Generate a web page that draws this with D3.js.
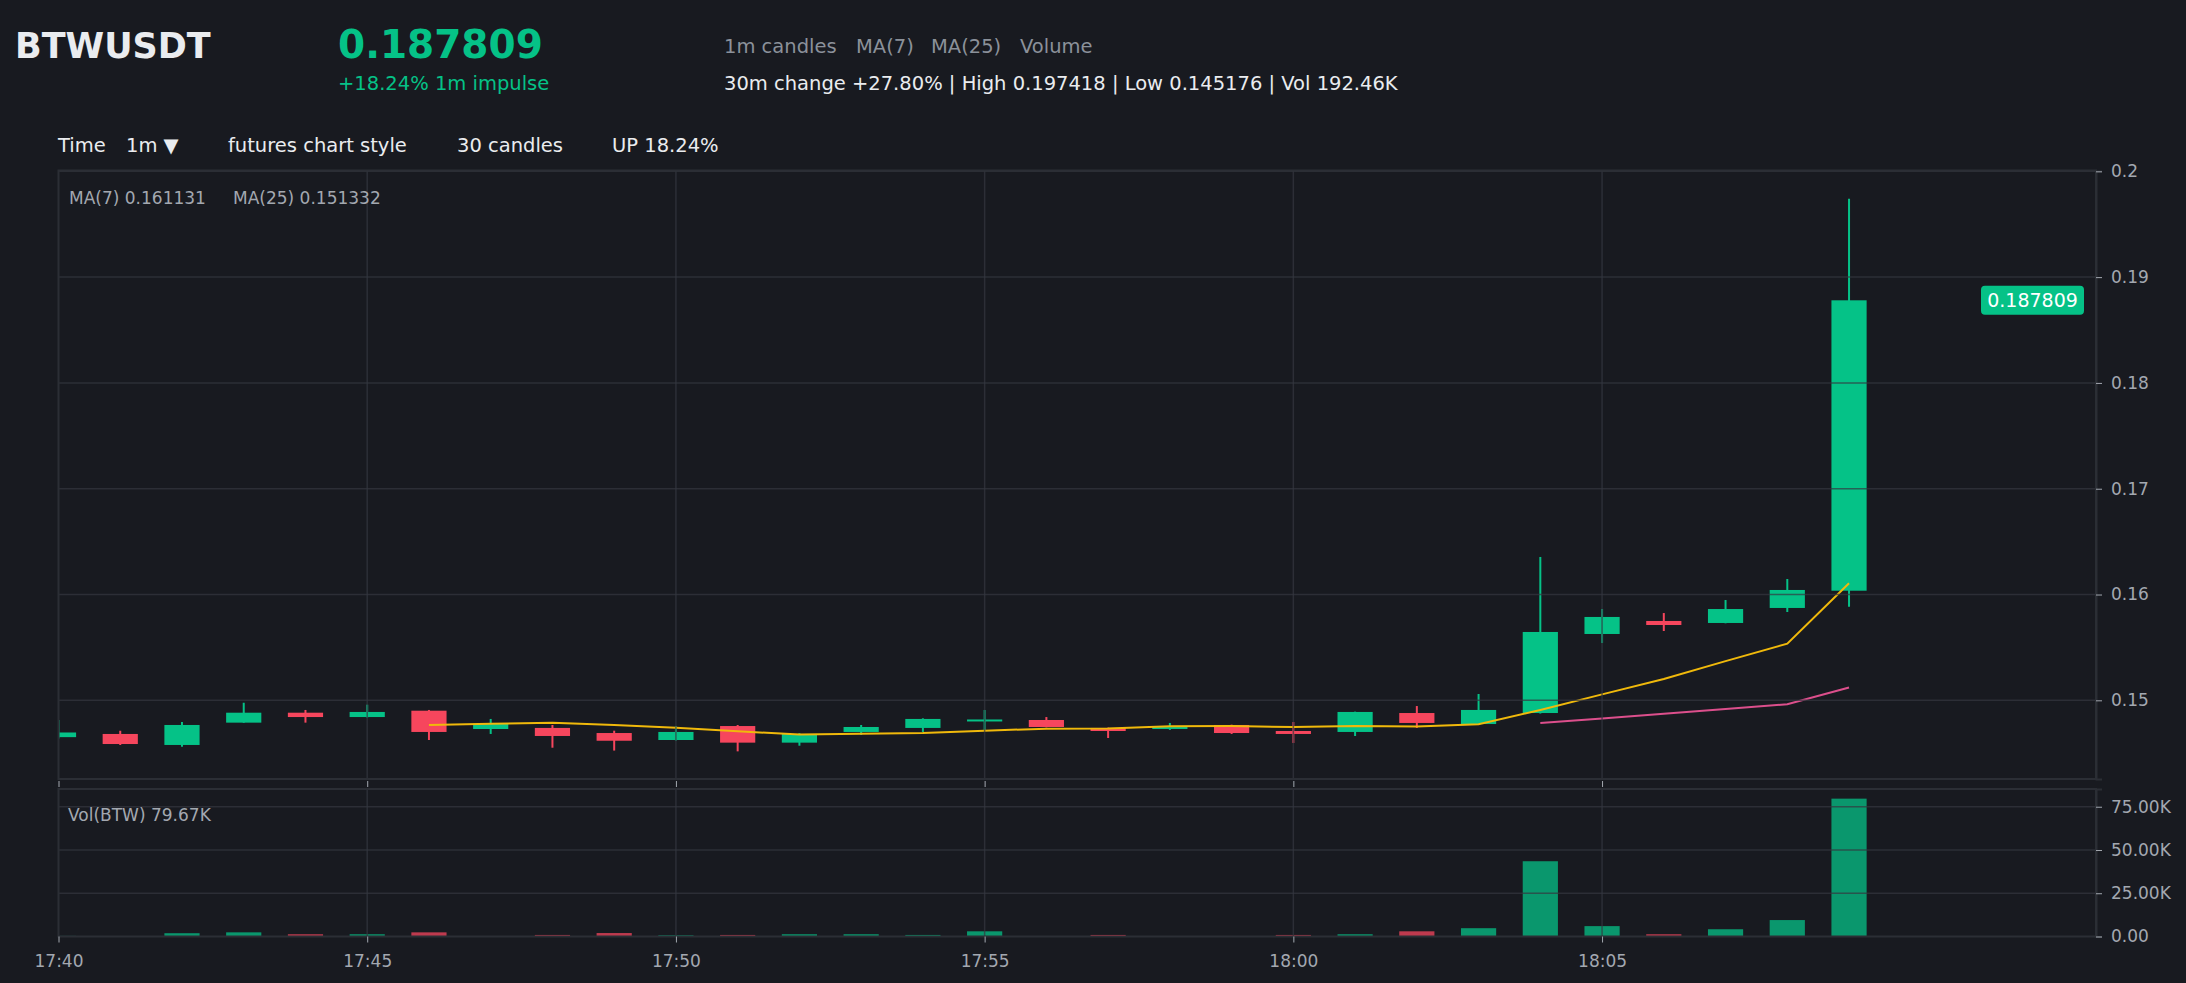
<!DOCTYPE html>
<html>
<head>
<meta charset="utf-8">
<script src="https://cdn.jsdelivr.net/npm/d3@7"></script>
<style>
  html, body { margin: 0; padding: 0; background: #181a20; }
  svg { display: block; font-family: "DejaVu Sans", sans-serif; }
</style>
</head>
<body>
<svg id="chart" width="2186" height="983"></svg>
<script>
// 1m candles, BTWUSDT, 17:40 - 18:09
const times = ["17:40","17:41","17:42","17:43","17:44","17:45","17:46","17:47","17:48","17:49",
  "17:50","17:51","17:52","17:53","17:54","17:55","17:56","17:57","17:58","17:59",
  "18:00","18:01","18:02","18:03","18:04","18:05","18:06","18:07","18:08","18:09"];
const open = [0.14652,0.14682,0.14578,0.14789,0.14883,0.14842,0.14902,0.14729,0.14739,0.14691,
  0.14625,0.14757,0.14600,0.14701,0.14739,0.14805,0.14814,0.14739,0.14729,0.14767,
  0.14710,0.14701,0.14880,0.14776,0.14880,0.15627,0.15750,0.15731,0.15873,0.16036];
const high = [0.14814,0.14713,0.14795,0.14978,0.14909,0.14959,0.14909,0.14824,0.14767,0.14713,
  0.14757,0.14767,0.14690,0.14767,0.14830,0.14909,0.14842,0.14742,0.14786,0.14770,
  0.14795,0.14893,0.14946,0.15060,0.16355,0.15863,0.15825,0.15948,0.16147,0.197418];
const low = [0.14640,0.14578,0.14562,0.14788,0.14789,0.14838,0.14625,0.14682,0.14552,0.14525,
  0.14620,0.145176,0.14571,0.14672,0.14701,0.14720,0.14745,0.14644,0.14720,0.14682,
  0.14597,0.14663,0.14739,0.14773,0.14875,0.15542,0.15655,0.15728,0.15835,0.15884];
const close = [0.14696,0.14587,0.14767,0.14883,0.14842,0.14890,0.14701,0.14776,0.14663,0.14618,
  0.14701,0.14600,0.14682,0.14748,0.14824,0.14819,0.14748,0.14710,0.14757,0.14691,
  0.14682,0.14890,0.14786,0.14909,0.15646,0.15788,0.15712,0.15863,0.16043,0.187809];
const volume = [350,250,1900,2400,1300,1300,2400,250,900,2000,
  700,900,1300,1300,900,3000,200,900,250,150,
  900,1300,3000,4800,43500,6000,1300,4200,9500,79670];

const priceTicks = [0.15, 0.16, 0.17, 0.18, 0.19, 0.2];
const volTicks = [0, 25000, 50000, 75000];
const timeTicks = ["17:40","17:45","17:50","17:55","18:00","18:05"];
const timeEnd = "18:13";

const symbol = "BTWUSDT";
const lastPrice = "0.187809";
const impulse = "+18.24% 1m impulse";
const headerTags = ["1m candles", "MA(7)", "MA(25)", "Volume"];
const summary = "30m change +27.80% | High 0.197418 | Low 0.145176 | Vol 192.46K";
const toolbar = ["Time", "1m \u25BC", "futures chart style", "30 candles", "UP 18.24%"];
const maLegend = ["MA(7) 0.161131", "MA(25) 0.151332"];
const volLegend = "Vol(BTW) 79.67K";

const GREEN = "#05c287", RED = "#f6465d", BG = "#181a20";
const GRID = "rgba(52,56,64,0.7)", FRAME = "#2b2e35";
const TXT = "#eaecef", MUTED = "#8b919a", TICK = "#a3a8b0";

const parseT = d3.timeParse("%H:%M");
const data = times.map((t, i) => ({
  t: parseT(t), o: open[i], h: high[i], l: low[i], c: close[i], v: volume[i],
  up: close[i] >= open[i]
}));

function movingAvg(n) {
  const out = [];
  for (let i = n - 1; i < data.length; i++) {
    out.push({ t: data[i].t, v: d3.mean(data.slice(i - n + 1, i + 1), d => d.c) });
  }
  return out;
}
const ma7 = movingAvg(7);
const ma25 = movingAvg(25);

const left = 58.5, right = 2096;
const pTop = 170.5, pBottom = 779;
const vTop = 789, vBottom = 936.5;

const svg = d3.select("#chart");
svg.append("rect").attr("width", 2186).attr("height", 983).attr("fill", BG);

const x = d3.scaleTime().domain([data[0].t, parseT(timeEnd)]).range([left, right]);
const lo = d3.min(low), hi = d3.max(high), pad = (hi - lo) * 0.05;
const y = d3.scaleLinear().domain([lo - pad, hi + pad]).range([pBottom, pTop + 0.5]);
const yv = d3.scaleLinear().domain([0, d3.max(volume) * 1.07]).range([vBottom, vTop]);
const step = x(data[1].t) - x(data[0].t);
const bw = step * 0.57;

// header
svg.append("text").attr("x", 15).attr("y", 58).attr("fill", TXT)
  .style("font-size", "35px").style("font-weight", "bold").text(symbol);
svg.append("text").attr("x", 338).attr("y", 58).attr("fill", GREEN)
  .style("font-size", "39px").style("font-weight", "bold").text(lastPrice);
svg.append("text").attr("x", 338).attr("y", 90).attr("fill", GREEN)
  .style("font-size", "19.5px").text(impulse);
const tagX = [724, 856, 931, 1020];
headerTags.forEach((t, i) => {
  svg.append("text").attr("x", tagX[i]).attr("y", 53).attr("fill", MUTED)
    .style("font-size", "19.5px").text(t);
});
svg.append("text").attr("x", 724).attr("y", 90).attr("fill", TXT)
  .style("font-size", "19.5px").text(summary);
const toolX = [58, 126, 228, 457, 612];
toolbar.forEach((t, i) => {
  svg.append("text").attr("x", toolX[i]).attr("y", 152).attr("fill", TXT)
    .style("font-size", "19.5px").text(t);
});

// clip paths
const defs = svg.append("defs");
defs.append("clipPath").attr("id", "clipP").append("rect")
  .attr("x", left).attr("y", pTop).attr("width", right - left).attr("height", pBottom - pTop);
defs.append("clipPath").attr("id", "clipV").append("rect")
  .attr("x", left).attr("y", vTop).attr("width", right - left).attr("height", vBottom - vTop);

// price panel marks
const pm = svg.append("g").attr("clip-path", "url(#clipP)");
pm.selectAll(".wick").data(data).enter().append("line")
  .attr("x1", d => x(d.t)).attr("x2", d => x(d.t))
  .attr("y1", d => y(d.h)).attr("y2", d => y(d.l))
  .attr("stroke", d => d.up ? GREEN : RED).attr("stroke-width", 2);
pm.selectAll(".body").data(data).enter().append("rect")
  .attr("x", d => x(d.t) - bw / 2).attr("width", bw)
  .attr("y", d => y(Math.max(d.o, d.c)))
  .attr("height", d => Math.max(2, Math.abs(y(d.o) - y(d.c))))
  .attr("fill", d => d.up ? GREEN : RED);

const maLine = d3.line().x(d => x(d.t)).y(d => y(d.v));
pm.append("path").datum(ma7).attr("d", maLine)
  .attr("fill", "none").attr("stroke", "#f0b90b").attr("stroke-width", 2);
pm.append("path").datum(ma25).attr("d", maLine)
  .attr("fill", "none").attr("stroke", "#dc4f8c").attr("stroke-width", 2);

// price grid (drawn over the marks)
const pg = svg.append("g");
pg.selectAll(".hg").data(priceTicks).enter().append("line")
  .attr("x1", left).attr("x2", right).attr("y1", d => y(d)).attr("y2", d => y(d))
  .attr("stroke", GRID).attr("stroke-width", 1.5);
pg.selectAll(".vg").data(timeTicks.slice(1)).enter().append("line")
  .attr("x1", d => x(parseT(d))).attr("x2", d => x(parseT(d)))
  .attr("y1", pTop).attr("y2", pBottom)
  .attr("stroke", GRID).attr("stroke-width", 1.5);
svg.append("rect").attr("x", left).attr("y", pTop).attr("width", right - left)
  .attr("height", pBottom - pTop).attr("fill", "none").attr("stroke", FRAME).attr("stroke-width", 2);

// price axis (right)
const yAxis = svg.append("g").attr("transform", `translate(${right},0)`)
  .call(d3.axisRight(y).tickValues(priceTicks).tickSize(6).tickPadding(9).tickFormat(d => String(d)));
yAxis.select(".domain").attr("stroke", FRAME).attr("stroke-width", 2);
yAxis.selectAll(".tick line").attr("stroke", TICK);
yAxis.selectAll("text").attr("fill", TICK).style("font-size", "17px").style("font-family", "DejaVu Sans");

// time ticks under the price panel (no labels)
const xAxisP = svg.append("g").attr("transform", `translate(0,${pBottom + 2})`)
  .call(d3.axisBottom(x).tickValues(timeTicks.map(parseT)).tickSize(6).tickFormat(""));
xAxisP.select(".domain").remove();
xAxisP.selectAll(".tick line").attr("stroke", TICK);

// price tag
const last = data[data.length - 1];
const tag = svg.append("g").attr("transform", `translate(${right - 12},${y(last.c)})`);
tag.append("rect").attr("x", -103).attr("y", -14.5).attr("width", 103).attr("height", 29)
  .attr("rx", 4).attr("fill", GREEN);
tag.append("text").attr("x", -51.5).attr("y", 7).attr("text-anchor", "middle")
  .attr("fill", "#ffffff").style("font-size", "19px").text(lastPrice);

// MA legend
svg.append("text").attr("x", 69).attr("y", 204).attr("fill", TICK)
  .style("font-size", "17px").text(maLegend[0]);
svg.append("text").attr("x", 233).attr("y", 204).attr("fill", TICK)
  .style("font-size", "17px").text(maLegend[1]);

// volume panel
const vm = svg.append("g").attr("clip-path", "url(#clipV)");
vm.selectAll(".vol").data(data).enter().append("rect")
  .attr("x", d => x(d.t) - bw / 2).attr("width", bw)
  .attr("y", d => yv(d.v)).attr("height", d => yv(0) - yv(d.v))
  .attr("fill", d => d.up ? GREEN : RED).attr("fill-opacity", 0.75);

const vg = svg.append("g");
vg.selectAll(".hg").data(volTicks.slice(1)).enter().append("line")
  .attr("x1", left).attr("x2", right).attr("y1", d => yv(d)).attr("y2", d => yv(d))
  .attr("stroke", GRID).attr("stroke-width", 1.5);
vg.selectAll(".vg").data(timeTicks.slice(1)).enter().append("line")
  .attr("x1", d => x(parseT(d))).attr("x2", d => x(parseT(d)))
  .attr("y1", vTop).attr("y2", vBottom)
  .attr("stroke", GRID).attr("stroke-width", 1.5);
svg.append("rect").attr("x", left).attr("y", vTop).attr("width", right - left)
  .attr("height", vBottom - vTop).attr("fill", "none").attr("stroke", FRAME).attr("stroke-width", 2);

const yvAxis = svg.append("g").attr("transform", `translate(${right},0)`)
  .call(d3.axisRight(yv).tickValues(volTicks).tickSize(6).tickPadding(9)
    .tickFormat(d => d === 0 ? "0.00" : (d / 1000).toFixed(2) + "K"));
yvAxis.select(".domain").attr("stroke", FRAME).attr("stroke-width", 2);
yvAxis.selectAll(".tick line").attr("stroke", TICK);
yvAxis.selectAll("text").attr("fill", TICK).style("font-size", "17px").style("font-family", "DejaVu Sans");

const xAxisV = svg.append("g").attr("transform", `translate(0,${vBottom})`)
  .call(d3.axisBottom(x).tickValues(timeTicks.map(parseT)).tickSize(6).tickPadding(12)
    .tickFormat(d3.timeFormat("%H:%M")));
xAxisV.select(".domain").remove();
xAxisV.selectAll(".tick line").attr("stroke", TICK);
xAxisV.selectAll("text").attr("fill", TICK).style("font-size", "17px").style("font-family", "DejaVu Sans");

svg.append("text").attr("x", 68).attr("y", 821).attr("fill", TICK)
  .style("font-size", "17px").text(volLegend);
</script>
</body>
</html>
